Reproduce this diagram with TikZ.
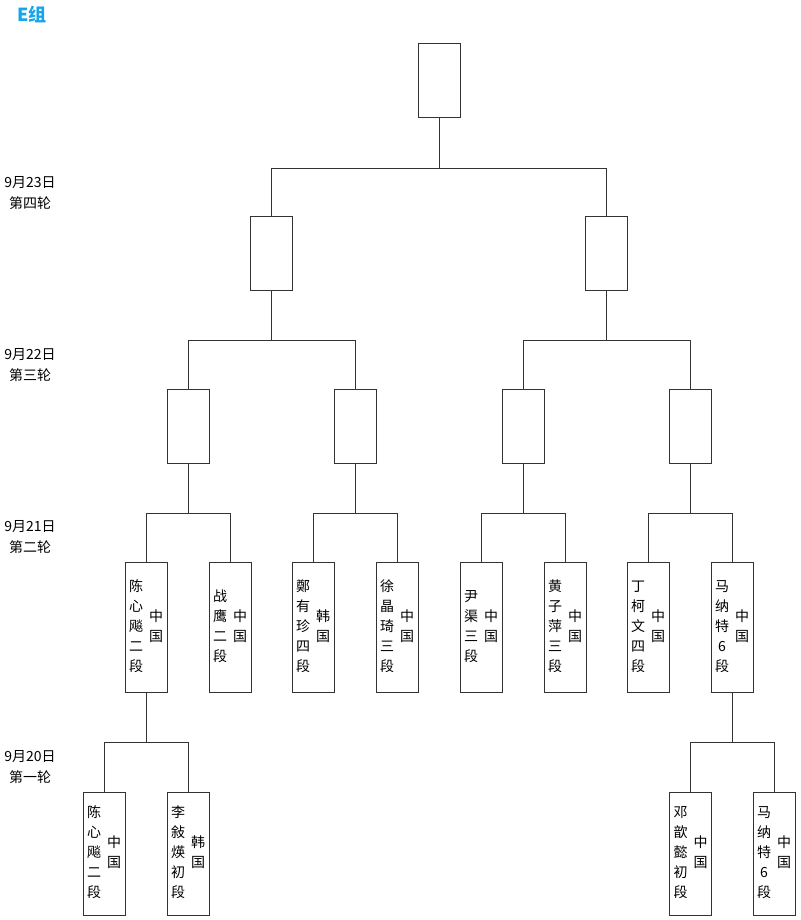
\documentclass[tikz,border=0pt]{standalone}
\usepackage{fontspec}
\newfontfamily\cjk{Noto Sans CJK SC}
\usepackage{tikz}
\usepackage{xcolor}
\definecolor{groupblue}{RGB}{20,165,235}

% two vertical columns: name and country
\newcommand{\player}[2]{%
  \begin{tabular}{@{}c@{}}#1\end{tabular}\hspace{4.5pt}%
  \begin{tabular}{@{}c@{}}#2\end{tabular}}

\begin{document}
\begin{tikzpicture}[x=0.75pt,y=-0.75pt,
  font=\cjk\fontsize{10.5}{15}\selectfont,
  box/.style={draw=black!80,line width=0.75pt,minimum width=31.5pt,inner sep=0pt},
  emptybox/.style={box,minimum height=55.5pt},
  playerbox/.style={box,minimum height=97.5pt},
  firstbox/.style={box,minimum height=92.25pt},
  link/.style={draw=black!80,line width=0.75pt},
  datelabel/.style={align=center,inner sep=0pt,font=\cjk\fontsize{10.5}{15.75}\selectfont}]
 \useasboundingbox (0,0) rectangle (800,920);

 \node[anchor=west,inner sep=0pt,text=groupblue,font=\cjk\bfseries\fontsize{13.5}{16}\selectfont] (group) at (17,14) {E组};

 \node[datelabel] (day4) at (30,193) {9月23日\\第四轮};
 \node[datelabel] (day3) at (30,365.5) {9月22日\\第三轮};
 \node[datelabel] (day2) at (30,537.5) {9月21日\\第二轮};
 \node[datelabel] (day1) at (30,767.5) {9月20日\\第一轮};

 \node[emptybox] (final) at (439,80.5) {};
 \node[emptybox] (semi1) at (271.5,253) {};
 \node[emptybox] (semi2) at (606.5,253) {};

 \node[emptybox] (quarter1) at (188,426) {};
 \node[emptybox] (quarter2) at (355,426) {};
 \node[emptybox] (quarter3) at (523,426) {};
 \node[emptybox] (quarter4) at (690,426) {};

 \node[playerbox] (chen) at (146,627) {\player{陈\\心\\飚\\二\\段}{中\\国}};
 \node[playerbox] (zhan) at (230,627) {\player{战\\鹰\\二\\段}{中\\国}};
 \node[playerbox] (zheng) at (313,627) {\player{鄭\\有\\珍\\四\\段}{韩\\国}};
 \node[playerbox] (xu) at (397,627) {\player{徐\\晶\\琦\\三\\段}{中\\国}};
 \node[playerbox] (yin) at (481,627) {\player{尹\\渠\\三\\段}{中\\国}};
 \node[playerbox] (huang) at (565,627) {\player{黄\\子\\萍\\三\\段}{中\\国}};
 \node[playerbox] (ding) at (648,627) {\player{丁\\柯\\文\\四\\段}{中\\国}};
 \node[playerbox] (ma) at (732,627) {\player{马\\纳\\特\\6\\段}{中\\国}};

 \node[firstbox] (chenfirst) at (104,853.5) {\player{陈\\心\\飚\\二\\段}{中\\国}};
 \node[firstbox] (li) at (188,853.5) {\player{李\\敍\\煐\\初\\段}{韩\\国}};
 \node[firstbox] (deng) at (690.5,853.5) {\player{邓\\歆\\懿\\初\\段}{中\\国}};
 \node[firstbox] (mafirst) at (774,853.5) {\player{马\\纳\\特\\6\\段}{中\\国}};

% brackets
 \draw[link] (final.south) -- ++(0,50) -| (semi1.north);
 \draw[link] (final.south) -- ++(0,50) -| (semi2.north);

 \draw[link] (semi1.south) -- ++(0,50) -| (quarter1.north);
 \draw[link] (semi1.south) -- ++(0,50) -| (quarter2.north);
 \draw[link] (semi2.south) -- ++(0,50) -| (quarter3.north);
 \draw[link] (semi2.south) -- ++(0,50) -| (quarter4.north);

 \draw[link] (quarter1.south) -- ++(0,50) -| (chen.north);
 \draw[link] (quarter1.south) -- ++(0,50) -| (zhan.north);
 \draw[link] (quarter2.south) -- ++(0,50) -| (zheng.north);
 \draw[link] (quarter2.south) -- ++(0,50) -| (xu.north);
 \draw[link] (quarter3.south) -- ++(0,50) -| (yin.north);
 \draw[link] (quarter3.south) -- ++(0,50) -| (huang.north);
 \draw[link] (quarter4.south) -- ++(0,50) -| (ding.north);
 \draw[link] (quarter4.south) -- ++(0,50) -| (ma.north);

 \draw[link] (chen.south) -- ++(0,50) -| (chenfirst.north);
 \draw[link] (chen.south) -- ++(0,50) -| (li.north);
 \draw[link] (ma.south) -- ++(0,50) -| (deng.north);
 \draw[link] (ma.south) -- ++(0,50) -| (mafirst.north);
\end{tikzpicture}
\end{document}
